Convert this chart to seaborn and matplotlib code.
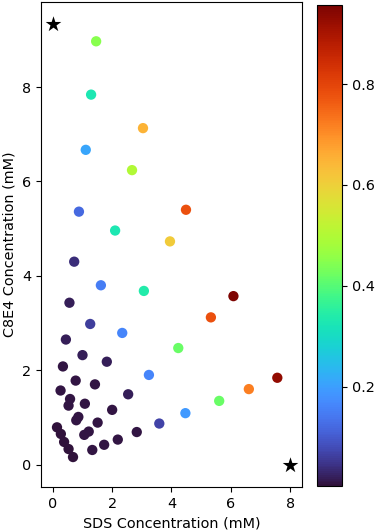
import numpy as np
import pandas as pd
import matplotlib
matplotlib.use("Agg")
import matplotlib.pyplot as plt
import seaborn as sns

# concentraciones medidas (mM) y valor asociado a cada punto
sds = [1.46, 1.29, 3.04, 1.11, 2.67, 0.88, 4.49, 2.10, 3.95, 0.72,
       1.62, 3.07, 0.56, 1.26, 2.34, 4.23, 3.24, 6.09, 5.33, 7.57,
       6.61, 5.61, 4.47, 3.59,
       0.44, 1.00, 1.82, 0.34, 0.77, 1.42, 0.26, 0.58, 2.54, 0.53,
       1.08, 2.00, 0.86, 0.79, 1.51, 2.83, 0.14, 1.21, 1.06, 0.27,
       2.19, 0.38, 1.73, 0.53, 1.33, 0.68]
c8e4 = [8.97, 7.84, 7.13, 6.67, 6.24, 5.36, 5.40, 4.96, 4.73, 4.30,
        3.80, 3.68, 3.43, 2.98, 2.79, 2.47, 1.90, 3.57, 3.12, 1.84,
        1.60, 1.35, 1.09, 0.87,
        2.65, 2.32, 2.18, 2.08, 1.78, 1.70, 1.57, 1.39, 1.49, 1.25,
        1.29, 1.16, 1.01, 0.94, 0.89, 0.69, 0.79, 0.70, 0.63, 0.65,
        0.53, 0.48, 0.42, 0.33, 0.31, 0.16]
valor = [0.45, 0.33, 0.65, 0.21, 0.50, 0.12, 0.78, 0.33, 0.61, 0.04,
         0.15, 0.34, 0.02, 0.06, 0.16, 0.42, 0.16, 0.95, 0.78, 0.93,
         0.72, 0.42, 0.19, 0.07,
         0.02, 0.02, 0.02, 0.01, 0.01, 0.01, 0.01, 0.01, 0.02, 0.01,
         0.01, 0.01, 0.01, 0.01, 0.01, 0.01, 0.005, 0.01, 0.01, 0.005,
         0.01, 0.005, 0.01, 0.005, 0.01, 0.005]

# componentes puros
star_sds = [0.0, 8.0]
star_c8e4 = [9.33, 0.0]

vmin, vmax = 0.003, 0.957

plt.rcParams['font.size'] = 10.4

df = pd.DataFrame({"SDS": sds, "C8E4": c8e4, "valor": valor})
stars = pd.DataFrame({"SDS": star_sds, "C8E4": star_c8e4})

fig = plt.figure(figsize=(3.76, 5.32), dpi=100)
ax = fig.add_axes([0.109, 0.085, 0.694, 0.911])
cax = fig.add_axes([0.843, 0.086, 0.067, 0.905])

norm = plt.Normalize(vmin, vmax)
sns.scatterplot(data=df, x="SDS", y="C8E4", hue="valor", palette="turbo",
                hue_norm=norm, s=55, linewidth=0, legend=False, ax=ax)
sns.scatterplot(data=stars, x="SDS", y="C8E4", color="black", marker="*",
                s=140, linewidth=0, ax=ax)

ax.set_xlim(-0.4, 8.4)
ax.set_ylim(-0.47, 9.8)
ax.set_xticks([0, 2, 4, 6, 8])
ax.set_yticks([0, 2, 4, 6, 8])
ax.set_xlabel("SDS Concentration (mM)")
ax.set_ylabel("C8E4 Concentration (mM)")

sm = plt.cm.ScalarMappable(cmap="turbo", norm=norm)
fig.colorbar(sm, cax=cax)

fig.savefig("out.png", dpi=100)
